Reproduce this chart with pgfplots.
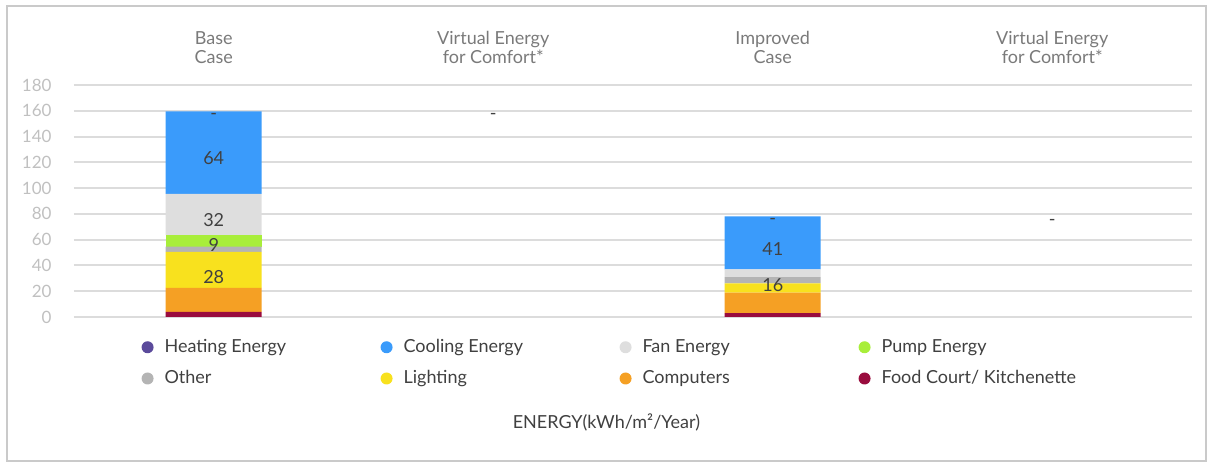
\documentclass[border=0pt]{standalone}
\usepackage{fontspec}
\setmainfont{Lato}
\usepackage{pgfplots}
\pgfplotsset{compat=1.18}

\definecolor{heatC}{HTML}{5B4A9B}
\definecolor{coolC}{HTML}{3A9BFB}
\definecolor{fanC}{HTML}{DEDEDE}
\definecolor{pumpC}{HTML}{A8EE3A}
\definecolor{otherC}{HTML}{B4B4B4}
\definecolor{lightC}{HTML}{F8E11E}
\definecolor{compC}{HTML}{F5A024}
\definecolor{foodC}{HTML}{990C3E}
\definecolor{gridgray}{HTML}{DCDCDC}
\definecolor{tickgray}{HTML}{C0C0C0}
\definecolor{headgray}{HTML}{7A7A7A}
\definecolor{textgray}{HTML}{404040}
\definecolor{framegray}{HTML}{CACACA}

\tikzset{
  vallabel/.style={text=textgray, font=\fontsize{9}{10.8}\selectfont},
  colhead/.style={text=headgray, align=center, font=\fontsize{9}{9.5}\selectfont},
}

\begin{document}
\begin{tikzpicture}
\path[use as bounding box] (-37pt,-73.5pt) rectangle (566.5pt,158.5pt);
\draw[framegray, line width=1pt] (-33.5pt,-72pt) rectangle (566pt,155.5pt);
\begin{axis}[
  at={(0,0)}, anchor=south west,
  scale only axis, width=559pt, height=116pt,
  xmin=-0.5, xmax=3.5, ymin=0, ymax=180,
  ytick={0,20,...,180}, xtick=\empty,
  axis line style={draw=none}, major tick length=0pt,
  ymajorgrids, grid style={gridgray, line width=1pt},
  yticklabel style={font=\fontsize{8.5}{10}\selectfont, text=tickgray, xshift=-7.7pt},
  /pgf/number format/assume math mode=true,
  ybar stacked, bar width=48pt, clip=false,
  legend columns=4,
  legend style={at={(0.0601,-0.085)}, anchor=north west, draw=none, fill=none,
    inner sep=0pt, row sep=5.5pt,
    nodes={inner xsep=0pt, inner ysep=1pt, text=textgray,
           font=\fontsize{9}{10.8}\selectfont}},
  legend cell align=left,
  legend image code/.code={\fill[#1, draw=none] (0pt,0pt) circle (3pt);
                           \path[draw=none, fill=none] (-3pt,0pt) -- (8.5pt,0pt);},
]
% legend entries, in the order they are listed
\addlegendimage{fill=heatC}\addlegendentry{\makebox[108pt][l]{Heating Energy}}
\addlegendimage{fill=coolC}\addlegendentry{\makebox[108pt][l]{Cooling Energy}}
\addlegendimage{fill=fanC}\addlegendentry{\makebox[108pt][l]{Fan Energy}}
\addlegendimage{fill=pumpC}\addlegendentry{\makebox[108pt][l]{Pump Energy}}
\addlegendimage{fill=otherC}\addlegendentry{\makebox[108pt][l]{Other}}
\addlegendimage{fill=lightC}\addlegendentry{\makebox[108pt][l]{Lighting}}
\addlegendimage{fill=compC}\addlegendentry{\makebox[108pt][l]{Computers}}
\addlegendimage{fill=foodC}\addlegendentry{\makebox[108pt][l]{Food Court/ Kitchenette}}

% stacked end uses, bottom to top
\addplot[fill=foodC, draw=none]  coordinates {(0,4) (2,3)};
\addplot[fill=compC, draw=none]  coordinates {(0,18.5) (2,16)};
\addplot[fill=lightC, draw=none] coordinates {(0,28) (2,7)};
\addplot[fill=otherC, draw=none] coordinates {(0,4) (2,5)};
\addplot[fill=pumpC, draw=none]  coordinates {(0,9) (2,0)};
\addplot[fill=fanC, draw=none]   coordinates {(0,32) (2,6)};
\addplot[fill=coolC, draw=none]  coordinates {(0,64) (2,41)};
\addplot[fill=heatC, draw=none]  coordinates {(0,0) (2,0)};

% anchor points for the value labels (drawn after the bars)
\coordinate (bH) at (axis cs:0,155.5);
\coordinate (bC) at (axis cs:0,123.5);
\coordinate (bF) at (axis cs:0,75);
\coordinate (bP) at (axis cs:0,55.5);
\coordinate (bL) at (axis cs:0,31);
\coordinate (vA) at (axis cs:1,155.5);
\coordinate (iH) at (axis cs:2,74.5);
\coordinate (iC) at (axis cs:2,52.5);
\coordinate (iX) at (axis cs:2,25);
\coordinate (vB) at (axis cs:3,73.5);

% column headers
\node[colhead] at ([yshift=18.75pt]axis cs:0,180) {Base\\Case};
\node[colhead] at ([yshift=18.75pt]axis cs:1,180) {Virtual Energy\\for Comfort*};
\node[colhead] at ([yshift=18.75pt]axis cs:2,180) {Improved\\Case};
\node[colhead] at ([yshift=18.75pt]axis cs:3,180) {Virtual Energy\\for Comfort*};

\node[text=textgray, font=\fontsize{9}{10.8}\selectfont]
  at ([yshift=-52.5pt]axis cs:1.405,0) {ENERGY(kWh/m²/Year)};
\end{axis}

\node[vallabel] at (bH) {-};
\node[vallabel] at (bC) {64};
\node[vallabel] at (bF) {32};
\node[vallabel] at (bP) {9};
\node[vallabel] at (bL) {28};
\node[vallabel] at (vA) {-};
\node[vallabel] at (iH) {-};
\node[vallabel] at (iC) {41};
\node[vallabel] at (iX) {16};
\node[vallabel] at (vB) {-};
\end{tikzpicture}
\end{document}
